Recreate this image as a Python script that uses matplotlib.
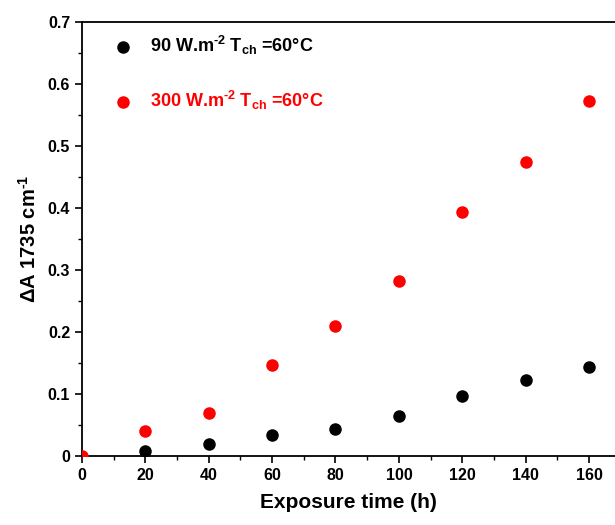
import matplotlib
matplotlib.use("Agg")
import matplotlib.pyplot as plt
from matplotlib.ticker import MultipleLocator

plt.rcParams["font.family"] = ["Liberation Sans", "DejaVu Sans"]
plt.rcParams["font.weight"] = "bold"
plt.rcParams["mathtext.fontset"] = "custom"
plt.rcParams["mathtext.rm"] = "Liberation Sans:bold"
plt.rcParams["mathtext.bf"] = "Liberation Sans:bold"
plt.rcParams["mathtext.default"] = "bf"

# ============================
# Data
# ============================

time_90 = [20, 40, 60, 80, 100, 120, 140, 160]
dA_90 = [0.008, 0.020, 0.034, 0.0435, 0.0645, 0.096, 0.122, 0.144]

time_300 = [0, 20, 40, 60, 80, 100, 120, 140, 160]
dA_300 = [0.0, 0.040, 0.070, 0.1465, 0.210, 0.283, 0.393, 0.4745, 0.573]

label_90 = r"90 W.m$^{\text{-2}}$ T$_{\text{ch}}$ =60°C"
label_300 = r"300 W.m$^{\text{-2}}$ T$_{\text{ch}}$ =60°C"

# ============================
# Plot
# ============================

fig = plt.figure(figsize=(6.15, 5.25), dpi=100)
ax = fig.add_axes([0.1333, 0.1314, 0.8667, 0.8267])

ax.scatter(time_90, dA_90, s=64, color="black", label=label_90, zorder=3)
ax.scatter(time_300, dA_300, s=64, color="#ff0000", label=label_300, zorder=3)

ax.set_xlim(0, 168.2)
ax.set_ylim(0, 0.7)

ax.xaxis.set_major_locator(MultipleLocator(20))
ax.xaxis.set_minor_locator(MultipleLocator(10))
ax.yaxis.set_minor_locator(MultipleLocator(0.05))
ax.set_yticks([0, 0.1, 0.2, 0.3, 0.4, 0.5, 0.6, 0.7])
ax.set_yticklabels(["0", "0.1", "0.2", "0.3", "0.4", "0.5", "0.6", "0.7"])

ax.tick_params(which="major", direction="out", length=5, width=1.2, labelsize=11.5)
ax.tick_params(which="minor", direction="out", length=3, width=1.0)
for lbl in ax.get_xticklabels() + ax.get_yticklabels():
    lbl.set_fontweight("bold")

ax.spines["right"].set_visible(False)
for s in ["left", "bottom", "top"]:
    ax.spines[s].set_linewidth(1.3)

ax.set_xlabel("Exposure time (h)", fontsize=15, fontweight="bold", labelpad=7)
ax.set_ylabel(r"ΔA 1735 cm$^{\text{-1}}$", fontsize=14.5, fontweight="bold", labelpad=6)

leg = ax.legend(loc="upper left", bbox_to_anchor=(0.013, 1.01), frameon=False,
                fontsize=13, labelspacing=1.75, handletextpad=0.5,
                scatterpoints=1, markerscale=1.0)
for t, c in zip(leg.get_texts(), ["black", "#ff0000"]):
    t.set_color(c)
    t.set_fontweight("bold")

fig.savefig("out.png", dpi=100)
plt.close(fig)
